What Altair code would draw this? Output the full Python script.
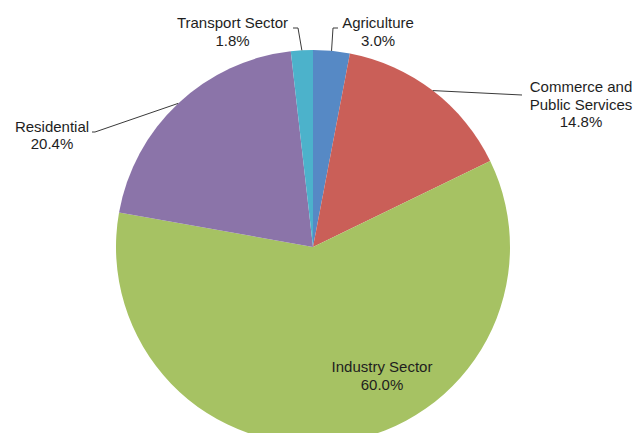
import math
import altair as alt
import pandas as pd

# ---- data ----
categories = ["Agriculture", "Commerce and Public Services", "Industry Sector", "Residential", "Transport Sector"]
values = [3.0, 14.8, 60.0, 20.4, 1.8]
label_texts = ["Agriculture\n3.0%", "Commerce and\nPublic Services\n14.8%", "Industry Sector\n60.0%",
               "Residential\n20.4%", "Transport Sector\n1.8%"]
colors = ["#5689C5", "#CA5F58", "#A6C263", "#8B74A9", "#4CB2CB"]

# ---- layout (chart pixel coordinates) ----
W, H = 627, 425
CX, CY, R = 305, 239, 197
label_pos = {  # first-line baseline anchor (center)
    "Agriculture": (370, 20),
    "Commerce and Public Services": (573, 84),
    "Industry Sector": (374, 364),
    "Residential": (44, 123.5),
    "Transport Sector": (224.5, 20),
}
leader_tail = {  # elbow / end points of leader lines
    "Agriculture": [(325, 20), (330, 20)],
    "Commerce and Public Services": [(514, 87)],
    "Residential": [(87, 124), (84, 124)],
    "Transport Sector": [(290, 20), (285, 20)],
}

df = pd.DataFrame({"category": categories, "value": values, "idx": range(len(categories))})

arc = alt.Chart(df).mark_arc(outerRadius=R, stroke=None).encode(
    theta=alt.Theta("value:Q", stack=True),
    color=alt.Color("category:N", scale=alt.Scale(domain=categories, range=colors), legend=None),
    order=alt.Order("idx:Q"),
    x=alt.value(CX),
    y=alt.value(CY),
)

# label table
lab = pd.DataFrame({
    "category": categories,
    "text": label_texts,
    "lx": [label_pos[c][0] for c in categories],
    "ly": [label_pos[c][1] for c in categories],
})
labels = alt.Chart(lab).mark_text(
    font="Liberation Sans", fontSize=15, lineBreak="\n", lineHeight=17.5,
    align="center", baseline="alphabetic", color="#1e1e1e",
).encode(
    x=alt.X("lx:Q", scale=None),
    y=alt.Y("ly:Q", scale=None),
    text="text:N",
)

# leader lines: start at slice mid-angle on the rim
rows = []
total = sum(values)
cum = 0.0
for c, v in zip(categories, values):
    mid = (cum + v / 2) / total * 2 * math.pi
    cum += v
    if c not in leader_tail:
        continue
    pts = [(CX + R * math.sin(mid), CY - R * math.cos(mid))] + leader_tail[c]
    for k, (px, py) in enumerate(pts):
        rows.append({"category": c, "seq": k, "px": px, "py": py})
lead = pd.DataFrame(rows)
leaders = alt.Chart(lead).mark_line(color="#3a3a3a", strokeWidth=1).encode(
    x=alt.X("px:Q", scale=None),
    y=alt.Y("py:Q", scale=None),
    detail="category:N",
    order="seq:Q",
)

chart = alt.layer(arc, leaders, labels).properties(
    width=W, height=H, padding=0, autosize="none"
).configure_view(stroke=None)

chart.save("out.html", embed_options={"renderer": "svg", "actions": False})
